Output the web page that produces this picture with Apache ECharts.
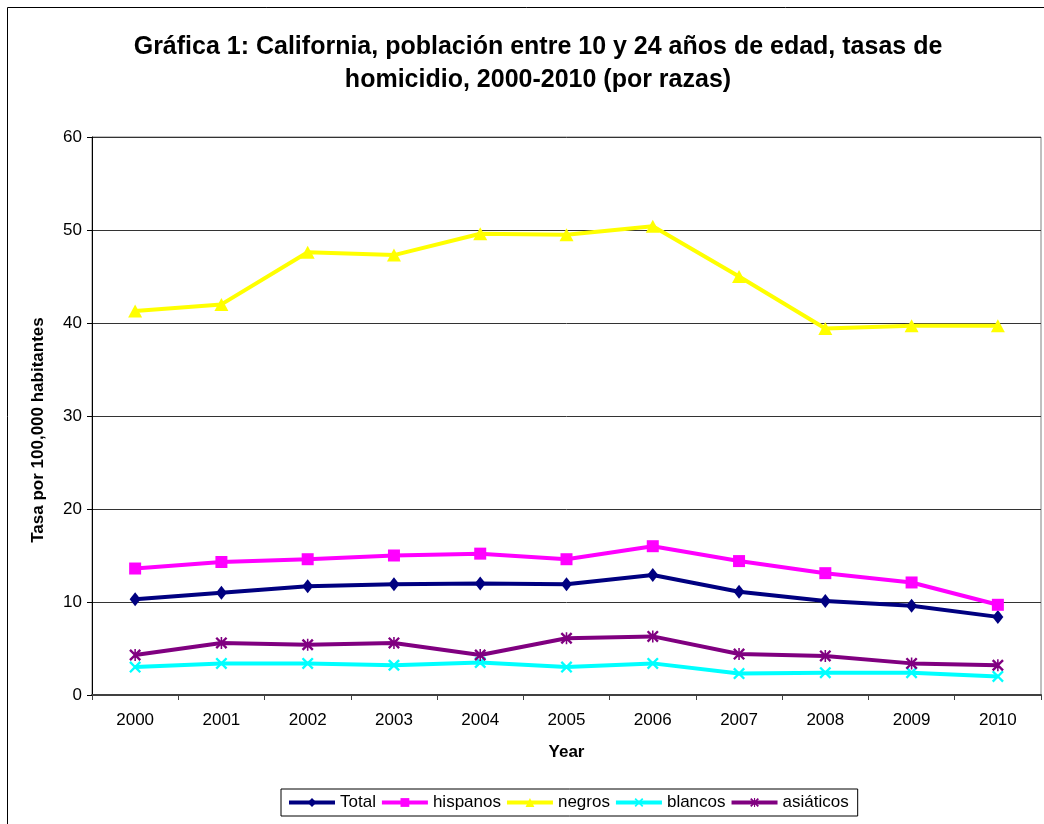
<!DOCTYPE html>
<html>
<head>
<meta charset="utf-8">
<script src="https://cdn.jsdelivr.net/npm/echarts@6/dist/echarts.min.js"></script>
<style>
html,body{margin:0;padding:0;background:#fff;}
#chart{width:1044px;height:824px;}
</style>
</head>
<body>
<div id="chart"></div>
<script>
var years = ['2000','2001','2002','2003','2004','2005','2006','2007','2008','2009','2010'];
var total =     [10.3, 11.0, 11.7, 11.9, 12.0, 11.9, 12.9, 11.1, 10.1, 9.6, 8.4];
var hispanos =  [13.6, 14.3, 14.6, 15.0, 15.2, 14.6, 16.0, 14.4, 13.1, 12.1, 9.7];
var negros =    [41.3, 42.0, 47.6, 47.3, 49.6, 49.5, 50.4, 45.0, 39.4, 39.7, 39.7];
var blancos =   [3.0, 3.4, 3.4, 3.2, 3.5, 3.0, 3.4, 2.3, 2.4, 2.4, 2.0];
var asiaticos = [4.3, 5.6, 5.4, 5.6, 4.3, 6.1, 6.3, 4.4, 4.2, 3.4, 3.2];
var yTicks = [0, 10, 20, 30, 40, 50, 60];

var FONT = 'Arial, "Liberation Sans", sans-serif';
var X_PATH = 'path://M0,1.4L1.4,0L5,3.6L8.6,0L10,1.4L6.4,5L10,8.6L8.6,10L5,6.4L1.4,10L0,8.6L3.6,5Z';
var STAR_PATH = 'path://M0,1.4L1.4,0L5,3.6L8.6,0L10,1.4L6.4,5L10,8.6L8.6,10L5,6.4L1.4,10L0,8.6L3.6,5Z M4.35,0L5.65,0L5.65,10L4.35,10Z';

function mk(name, data, color, symbol, size) {
  return {
    name: name, type: 'line', data: data,
    symbol: symbol, symbolSize: size,
    lineStyle: {color: color, width: 4},
    itemStyle: {color: color},
    emphasis: {disabled: true},
    animation: false
  };
}

var chart = echarts.init(document.getElementById('chart'));
chart.setOption({
  backgroundColor: '#fff',
  animation: false,
  title: {
    text: 'Gráfica 1: California, población entre 10 y 24 años de edad, tasas de\nhomicidio, 2000-2010 (por razas)',
    left: 533, top: 26, textAlign: 'center',
    textStyle: {fontFamily: FONT, fontSize: 25, fontWeight: 'bold', color: '#000', lineHeight: 33}
  },
  graphic: [{
    type: 'rect', z: -1, silent: true,
    shape: {x: 7.5, y: 7.5, width: 1200, height: 1000},
    style: {fill: 'none', stroke: '#000', lineWidth: 1}
  }],
  legend: {
    data: ['Total', 'hispanos', 'negros', 'blancos', 'asiáticos'],
    left: 281, top: 789,
    orient: 'horizontal',
    itemWidth: 46, itemHeight: 11, itemGap: 4,
    padding: [5, 9, 5, 6],
    borderColor: '#000', borderWidth: 1, backgroundColor: '#fff',
    lineStyle: {width: 4},
    textStyle: {fontFamily: FONT, fontSize: 17, color: '#000'}
  },
  grid: {
    left: 92, top: 137, right: 3, bottom: 129,
    show: true, borderColor: '#808080', borderWidth: 1, backgroundColor: '#fff',
    containLabel: false
  },
  xAxis: {
    type: 'category', data: years, boundaryGap: true,
    name: 'Year', nameLocation: 'middle', nameGap: 49,
    nameTextStyle: {fontFamily: FONT, fontSize: 17, fontWeight: 'bold', color: '#000'},
    axisLine: {lineStyle: {color: '#404040', width: 2}},
    axisTick: {show: true, length: 5, lineStyle: {color: '#404040', width: 1}},
    axisLabel: {fontFamily: FONT, fontSize: 17, color: '#000', margin: 17},
    splitLine: {show: false}
  },
  yAxis: {
    type: 'value', min: 0, max: 60, interval: 10,
    name: 'Tasa por 100,000 habitantes', nameLocation: 'middle', nameGap: 45, nameRotate: 90,
    nameTextStyle: {fontFamily: FONT, fontSize: 17, fontWeight: 'bold', color: '#000', padding: [0, 28, 0, 0]},
    axisLine: {show: true, lineStyle: {color: '#000', width: 1}},
    axisTick: {show: true, length: 5, lineStyle: {color: '#000', width: 1}},
    axisLabel: {fontFamily: FONT, fontSize: 17, color: '#000', margin: 10,
      formatter: function (v) { return yTicks.indexOf(v) >= 0 ? String(v) : ''; }},
    splitLine: {show: true, lineStyle: {color: '#333', width: 1}}
  },
  series: [
    mk('Total', total, '#000080', 'diamond', [11, 14]),
    mk('hispanos', hispanos, '#FF00FF', 'rect', 12),
    mk('negros', negros, '#FFFF00', 'triangle', [14, 13]),
    mk('blancos', blancos, '#00FFFF', X_PATH, 12),
    mk('asiáticos', asiaticos, '#800080', STAR_PATH, 12)
  ]
});
</script>
</body>
</html>
